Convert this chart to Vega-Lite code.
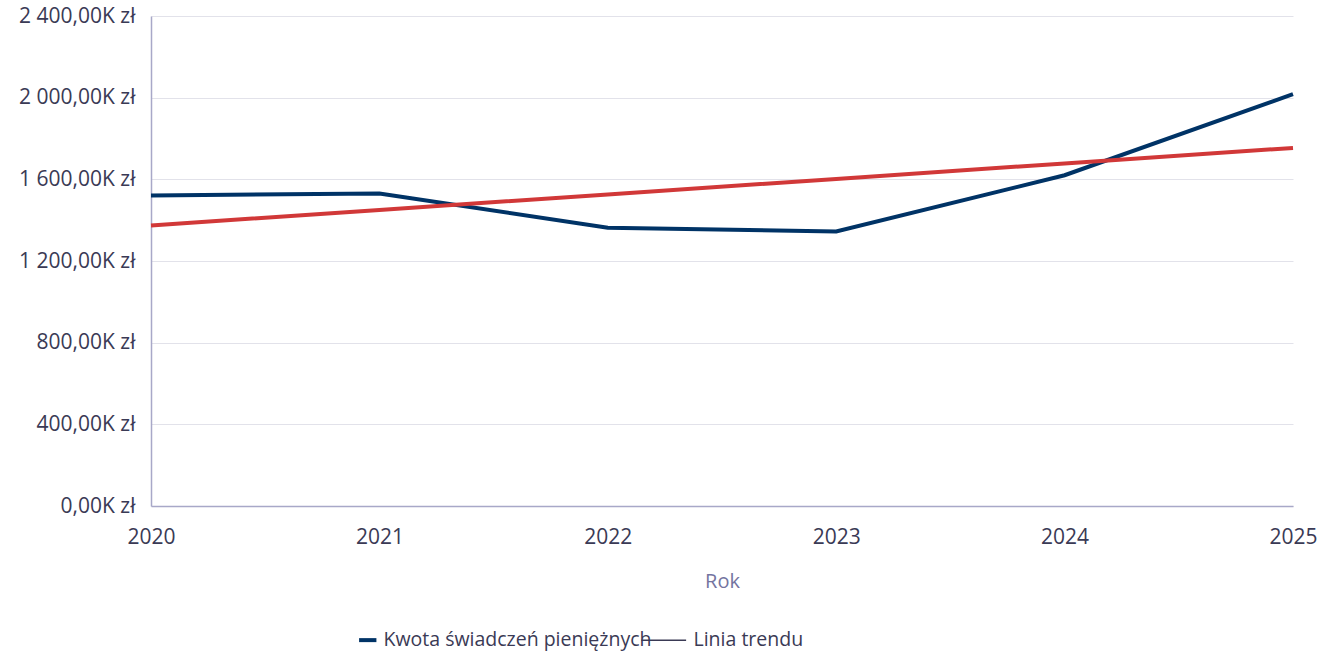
{
  "$schema": "https://vega.github.io/schema/vega-lite/v6.json",
  "autosize": "none",
  "padding": {"left": 151, "top": 16, "right": 38, "bottom": 147},
  "width": 1142,
  "height": 490,
  "background": "white",
  "config": {
    "font": "Open Sans",
    "view": {"stroke": null}
  },
  "data": {
    "values": [
      {"rok": 2020, "wartosc": 1521, "seria": "Kwota świadczeń pieniężnych"},
      {"rok": 2021, "wartosc": 1531, "seria": "Kwota świadczeń pieniężnych"},
      {"rok": 2022, "wartosc": 1363, "seria": "Kwota świadczeń pieniężnych"},
      {"rok": 2023, "wartosc": 1345, "seria": "Kwota świadczeń pieniężnych"},
      {"rok": 2024, "wartosc": 1620, "seria": "Kwota świadczeń pieniężnych"},
      {"rok": 2025, "wartosc": 2017, "seria": "Kwota świadczeń pieniężnych"},
      {"rok": 2020, "wartosc": 1374, "seria": "Linia trendu"},
      {"rok": 2021, "wartosc": 1450, "seria": "Linia trendu"},
      {"rok": 2022, "wartosc": 1526, "seria": "Linia trendu"},
      {"rok": 2023, "wartosc": 1602, "seria": "Linia trendu"},
      {"rok": 2024, "wartosc": 1678, "seria": "Linia trendu"},
      {"rok": 2025, "wartosc": 1754, "seria": "Linia trendu"}
    ]
  },
  "encoding": {
    "x": {
      "field": "rok",
      "type": "quantitative",
      "scale": {"domain": [2020, 2025], "nice": false, "zero": false},
      "axis": {
        "title": "Rok",
        "titleFont": "Open Sans",
        "titleFontSize": 20,
        "titleFontWeight": "normal",
        "titleColor": "#7474a0",
        "titlePadding": 24,
        "values": [2020, 2021, 2022, 2023, 2024, 2025],
        "format": "d",
        "labelFontSize": 21,
        "labelColor": "#3a3a55",
        "labelFlush": false,
        "labelPadding": 20,
        "ticks": false,
        "grid": false,
        "domainColor": "#a8a8c8",
        "domainWidth": 1.5
      }
    },
    "y": {
      "field": "wartosc",
      "type": "quantitative",
      "scale": {"domain": [0, 2400], "nice": false},
      "axis": {
        "title": null,
        "values": [0, 400, 800, 1200, 1600, 2000, 2400],
        "labelExpr": "replace(replace(format(datum.value, ',.2f'), ',', ' '), '.', ',') + 'K zł'",
        "labelFontSize": 21,
        "labelColor": "#3a3a55",
        "labelPadding": 16,
        "ticks": false,
        "gridColor": "#e2e2ea",
        "gridWidth": 1,
        "domainColor": "#a8a8c8",
        "domainWidth": 1.5
      }
    }
  },
  "layer": [
    {
      "transform": [{"filter": "datum.seria === 'Kwota świadczeń pieniężnych'"}],
      "mark": {"type": "line", "strokeWidth": 4, "strokeCap": "butt", "strokeJoin": "miter"},
      "encoding": {
        "color": {
          "field": "seria",
          "type": "nominal",
          "scale": {
            "domain": ["Kwota świadczeń pieniężnych", "Linia trendu"],
            "range": ["#003366", "#3a3a55"]
          },
          "legend": {
            "title": null,
            "orient": "none",
            "direction": "horizontal",
            "legendX": 207,
            "legendY": 614,
            "symbolType": "stroke",
            "symbolSize": 300,
            "symbolStrokeWidth": 4,
            "labelFontSize": 19.5,
            "labelColor": "#3a3a55",
            "labelLimit": 0,
            "labelOffset": 6,
            "columnPadding": -14,
            "encode": {
              "symbols": {
                "update": {
                  "strokeWidth": {"signal": "datum.value === 'Linia trendu' ? 1.5 : 4"},
                  "size": {"signal": "datum.value === 'Linia trendu' ? 2000 : 300"}
                }
              },
              "labels": {
                "update": {
                  "dx": {"signal": "datum.value === 'Linia trendu' ? 14 : 0"}
                }
              }
            }
          }
        }
      }
    },
    {
      "transform": [{"filter": "datum.seria === 'Linia trendu'"}],
      "mark": {"type": "line", "strokeWidth": 4, "strokeCap": "butt", "color": "#d13838"},
      "encoding": {}
    }
  ]
}
